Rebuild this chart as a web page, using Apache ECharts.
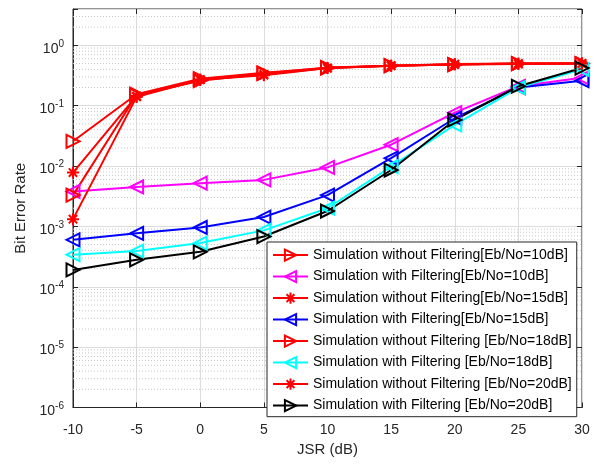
<!DOCTYPE html>
<html>
<head>
<meta charset="utf-8">
<script src="https://cdn.jsdelivr.net/npm/echarts@6/dist/echarts.min.js"></script>
<style>
  html, body { margin: 0; padding: 0; background: #fff; }
  #chart { width: 595px; height: 465px; }
</style>
</head>
<body>
<div id="chart"></div>
<script>
// JSR values (dB) on the x axis
const jsr = [-10, -5, 0, 5, 10, 15, 20, 25, 30];

// Bit error rate for each receiver setup
const noFilter10 = [0.0257, 0.155, 0.28, 0.35, 0.42, 0.46, 0.48, 0.50, 0.50];
const filter10   = [0.0038, 0.0045, 0.0052, 0.0059, 0.0095, 0.0226, 0.077, 0.21, 0.29];
const noFilter15 = [0.0078, 0.145, 0.27, 0.33, 0.42, 0.46, 0.48, 0.49, 0.50];
const filter15   = [0.0006, 0.00077, 0.00096, 0.00143, 0.0033, 0.0135, 0.062, 0.20, 0.26];
const noFilter18 = [0.0033, 0.15, 0.26, 0.34, 0.43, 0.46, 0.48, 0.50, 0.50];
const filter18   = [0.00034, 0.00039, 0.00053, 0.00086, 0.0020, 0.0098, 0.048, 0.20, 0.40];
const noFilter20 = [0.00132, 0.14, 0.27, 0.32, 0.42, 0.46, 0.49, 0.50, 0.50];
const filter20   = [0.00019, 0.00028, 0.00038, 0.00068, 0.0018, 0.0086, 0.058, 0.21, 0.42];

const seriesNames = [
  'Simulation without Filtering[Eb/No=10dB]',
  'Simulation with Filtering[Eb/No=10dB]',
  'Simulation without Filtering[Eb/No=15dB]',
  'Simulation with Filtering[Eb/No=15dB]',
  'Simulation without Filtering [Eb/No=18dB]',
  'Simulation with Filtering [Eb/No=18dB]',
  'Simulation without Filtering [Eb/No=20dB]',
  'Simulation with Filtering [Eb/No=20dB]'
];

// axis limits and the mantissas used for the dotted minor grid
const jsrMin = -10;
const jsrMax = 30;
const berMin = 1e-6;
const berMax = 4;
const minorMantissas = [2, 3, 4, 5, 6, 7, 8, 9];
const decades = [-6, -5, -4, -3, -2, -1, 0];

const FONT = 'Liberation Sans, Arial, Helvetica, sans-serif';
const AXIS_COLOR = '#262626';

const asterisk = 'path://M0,-10L0,10M-10,0L10,0M-7,-7L7,7M-7,7L7,-7';

function makeSeries(name, values, color, symbol, rotate, size) {
  return {
    name: name,
    type: 'line',
    z: 3,
    data: jsr.map((x, i) => [x, values[i]]),
    symbol: symbol,
    symbolSize: size,
    symbolRotate: rotate,
    showAllSymbol: true,
    lineStyle: { color: color, width: 2 },
    itemStyle: { color: 'none', borderColor: color, borderWidth: 2 },
    emphasis: { disabled: true },
    animation: false
  };
}

// dotted minor grid: one horizontal line per mantissa inside each decade
const minorGrid = [];
decades.forEach(d => {
  minorMantissas.forEach(m => {
    const v = m * Math.pow(10, d);
    if (v < berMax) {
      minorGrid.push({
        type: 'line', z: 1, silent: true, symbol: 'none',
        data: [[jsrMin, v], [jsrMax, v]],
        lineStyle: { color: '#c8c8c8', type: [1, 2], width: 1 },
        emphasis: { disabled: true },
        animation: false
      });
    }
  });
});

const supLabel = v => {
  const e = Math.round(Math.log10(v));
  if (Math.abs(Math.log10(v) - e) > 1e-6) return '';
  return '{b|10}{s|' + e + '}';
};

const option = {
  backgroundColor: '#fff',
  animation: false,
  grid: {
    left: 73, right: 13, top: 9, bottom: 57.5,
    show: true, borderColor: AXIS_COLOR, borderWidth: 1, backgroundColor: '#fff'
  },
  legend: {
    data: seriesNames,
    orient: 'vertical',
    left: 267, top: 242,
    padding: [5, 5, 3, 5],
    itemWidth: 35, itemHeight: 14, itemGap: 5.3,
    backgroundColor: '#fff',
    borderColor: AXIS_COLOR, borderWidth: 1, borderRadius: 0,
    symbolRotate: 'inherit',
    selectedMode: false,
    textStyle: { fontFamily: FONT, fontSize: 14, color: '#000' }
  },
  xAxis: [{
    type: 'value', min: jsrMin, max: jsrMax, interval: 5,
    name: 'JSR (dB)', nameLocation: 'middle', nameGap: 34,
    nameTextStyle: { fontFamily: FONT, fontSize: 15, color: AXIS_COLOR },
    axisLine: { onZero: false, lineStyle: { color: AXIS_COLOR } },
    axisTick: { inside: true, length: 5, lineStyle: { color: AXIS_COLOR } },
    axisLabel: { fontFamily: FONT, fontSize: 14, color: AXIS_COLOR, margin: 16 },
    splitLine: { show: true, lineStyle: { color: '#dcdcdc', width: 1 } }
  }, {
    type: 'value', position: 'top', min: jsrMin, max: jsrMax, interval: 5,
    axisLine: { show: false, onZero: false },
    axisTick: { inside: true, length: 5, lineStyle: { color: AXIS_COLOR } },
    axisLabel: { show: false }, splitLine: { show: false }
  }],
  yAxis: [{
    type: 'log', logBase: 10, min: berMin, max: berMax,
    name: 'Bit Error Rate', nameLocation: 'middle', nameGap: 42,
    nameTextStyle: { fontFamily: FONT, fontSize: 15, color: AXIS_COLOR },
    axisLine: { show: true, onZero: false, lineStyle: { color: AXIS_COLOR } },
    axisTick: { inside: true, length: 5, lineStyle: { color: AXIS_COLOR } },
    axisLabel: {
      margin: 9, formatter: supLabel, padding: [7, 0, 0, 0],
      rich: {
        b: { fontFamily: FONT, fontSize: 14, color: AXIS_COLOR, lineHeight: 20 },
        s: { fontFamily: FONT, fontSize: 10, color: AXIS_COLOR, lineHeight: 10, verticalAlign: 'top' }
      }
    },
    splitLine: { show: true, lineStyle: { color: '#dcdcdc', width: 1 } }
  }, {
    type: 'log', logBase: 10, min: berMin, max: berMax, position: 'right',
    axisLine: { show: false, onZero: false },
    axisTick: { inside: true, length: 5, lineStyle: { color: AXIS_COLOR } },
    axisLabel: { show: false }, splitLine: { show: false }
  }],
  series: minorGrid.concat([
    makeSeries(seriesNames[0], noFilter10, '#ff0000', 'triangle', -90, 13),
    makeSeries(seriesNames[1], filter10, '#ff00ff', 'triangle', 90, 13),
    makeSeries(seriesNames[2], noFilter15, '#ff0000', asterisk, 0, 12),
    makeSeries(seriesNames[3], filter15, '#0000ff', 'triangle', 90, 13),
    makeSeries(seriesNames[4], noFilter18, '#ff0000', 'triangle', -90, 13),
    makeSeries(seriesNames[5], filter18, '#00ffff', 'triangle', 90, 13),
    makeSeries(seriesNames[6], noFilter20, '#ff0000', asterisk, 0, 12),
    makeSeries(seriesNames[7], filter20, '#000000', 'triangle', -90, 13)
  ])
};

const chart = echarts.init(document.getElementById('chart'), null, { renderer: 'canvas' });
chart.setOption(option);
</script>
</body>
</html>
